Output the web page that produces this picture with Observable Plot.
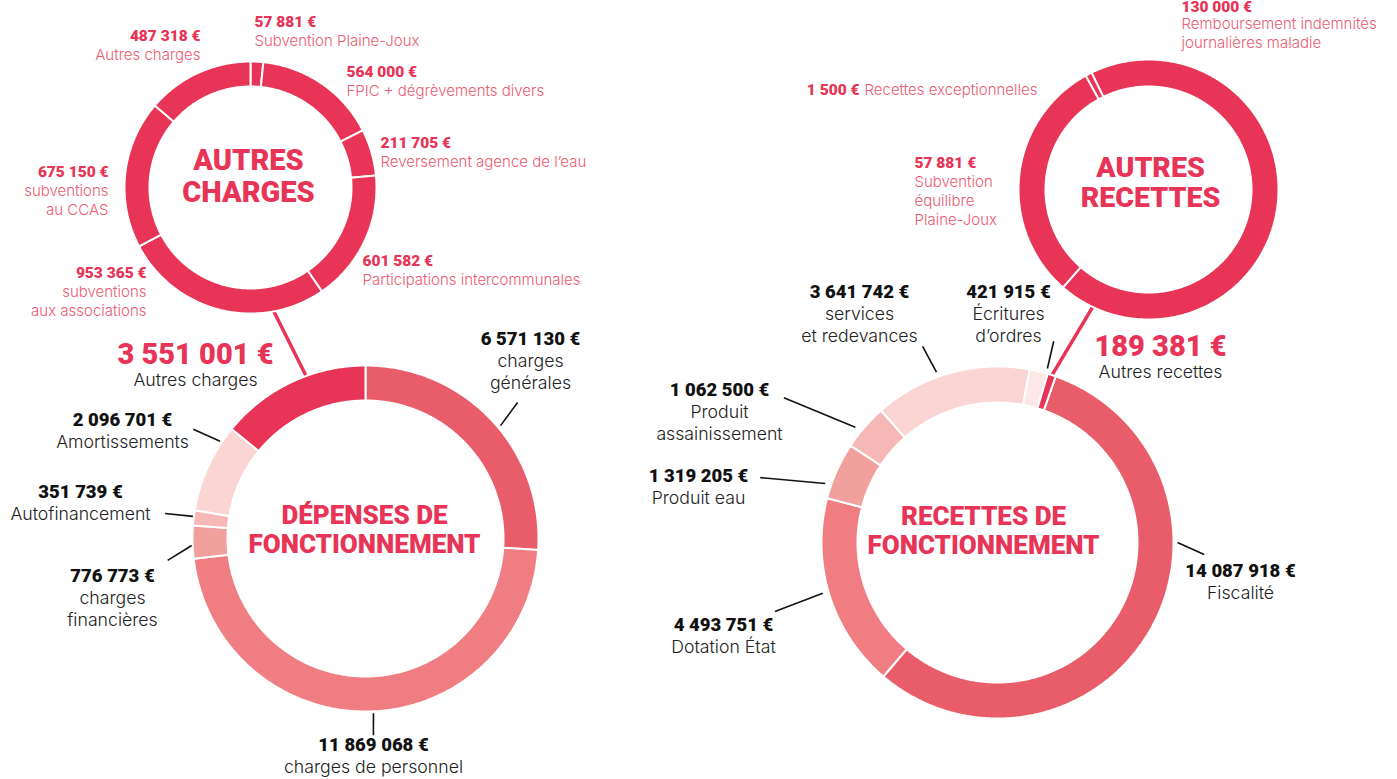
<!DOCTYPE html>
<html><head><meta charset="utf-8">
<script src="https://cdn.jsdelivr.net/npm/d3@7"></script>
<script src="https://cdn.jsdelivr.net/npm/@observablehq/plot@0.6"></script>
<style>html,body{margin:0;padding:0;background:#fff;overflow:hidden}</style>
</head><body><div id="chart"></div>
<script>
// ---------------- DATA ----------------
const depensesLabels = ["charges\ngénérales", "charges de personnel", "charges\nfinancières", "Autofinancement", "Amortissements", "Autres charges"];
const depensesValues = [6571130, 11869068, 776773, 351739, 2096701, 3551001];

const autresChargesLabels = ["Subvention Plaine-Joux", "FPIC + dégrèvements divers", "Reversement agence de l’eau", "Participations intercommunales", "subventions\naux associations", "subventions\nau CCAS", "Autres charges"];
const autresChargesValues = [57881, 564000, 211705, 601582, 953365, 675150, 487318];

const recettesLabels = ["Fiscalité", "Dotation État", "Produit eau", "Produit\nassainissement", "services\net redevances", "Écritures\nd’ordres", "Autres recettes"];
const recettesValues = [14087918, 4493751, 1319205, 1062500, 3641742, 421915, 189381];

const autresRecettesLabels = ["Remboursement indemnités\njournalières maladie", "Subvention\néquilibre\nPlaine-Joux", "Recettes exceptionnelles"];
const autresRecettesValues = [130000, 57881, 1500];

const titles = ["AUTRES\nCHARGES", "DÉPENSES DE\nFONCTIONNEMENT", "AUTRES\nRECETTES", "RECETTES DE\nFONCTIONNEMENT"];

// ---------------- LAYOUT / STYLE ----------------
const W = 1397, H = 779;
const RED = "#e83456";
const shades = {dark: RED, c1: "#e95c6a", c2: "#ef7d82", c3: "#f2a09e", c4: "#f6b8b6", c5: "#fad5d3", c6: "#fde8e7"};

// pos: [dx, dy, anchor, valueShift?] relative to the donut centre
const donuts = [
  {id: "AC", labels: autresChargesLabels, values: autresChargesValues, title: titles[0],
   cx: 250, cy: 187, R: 125, r: 102, start: 0, kind: "small",
   colors: Array(7).fill(RED), titleOff: [-2, -27, 32], titleSize: 29,
   pos: [[4,-165,"start"],[96,-115,"start"],[130,-44,"start"],[112,74,"start"],[-104,86,"end"],[-142,-15,"end"],[-50,-151,"end"]],
   leaders: []},
  {id: "DF", labels: depensesLabels, values: depensesValues, title: titles[1],
   cx: 365, cy: 538, R: 172, r: 139, start: 0, kind: "big", highlight: 5,
   colors: [shades.c1, shades.c2, shades.c3, shades.c4, shades.c5, shades.dark], titleOff: [-1, -23, 29.5], titleSize: 26,
   pos: [[165,-199,"middle"],[8,207,"middle"],[-253,38,"middle"],[-285,-46,"middle"],[-243,-118,"middle"],[-170,-184,"middle"]],
   leaders: [[50.1,176,48.2,204],[177.4,175,177.7,197],[267.7,174,263.7,199],[277.3,174,277.1,202],[303.8,175,302.4,204],null]},
  {id: "AR", labels: autresRecettesLabels, values: autresRecettesValues, title: titles[2],
   cx: 1148, cy: 189, R: 129, r: 104, start: -26, kind: "small",
   colors: Array(3).fill(RED), titleOff: [2, -22, 30], titleSize: 28.5,
   pos: [[33,-184,"start",2],[-234,-26,"start"],[-289,-99,"inline"]],
   leaders: []},
  {id: "RF", labels: recettesLabels, values: recettesValues, title: titles[3],
   cx: 997, cy: 542, R: 175, r: 141, start: 19.3, kind: "big", highlight: 6,
   colors: [shades.c1, shades.c2, shades.c3, shades.c4, shades.c5, shades.c6, shades.dark], titleOff: [-14, -26, 29.5], titleSize: 26,
   pos: [[243,29,"middle"],[-274,83,"middle"],[-299,-66,"middle"],[-278,-152,"middle"],[-138,-250,"middle"],[11,-250,"middle"],[163,-196,"middle"]],
   leaders: [[90,180,93.3,207],[253.8,182,252.8,233],[288.9,182,285.3,246],[309,183,304.1,258],[340.3,181,339.1,210],[16,181,15.6,209],null]}
];
// connectors: [from donut, angle] -> [to donut, angle]
const connectors = [[0, 169.6, 1, 340], [2, 205.3, 3, 17.9]];

const styles = {
  pinkVal:  {family: "Roboto", weight: 900, size: 15.5, fill: RED},
  pinkDesc: {family: "Inter", weight: 300, size: 15, fill: "#ec5b72"},
  blackVal: {family: "Roboto", weight: 900, size: 18.5, fill: "#111"},
  blackDesc:{family: "Inter", weight: 300, size: 17.7, fill: "#222"},
  bigVal:   {family: "Roboto", weight: 900, size: 29, fill: RED},
  title:    {family: "Roboto", weight: 900, size: 28, fill: RED}
};

// ---------------- BUILD ----------------
const deg = Math.PI / 180;
const fmt = v => d3.format(",")(v).replace(/,/g, "\u00a0") + "\u00a0€";
const polar = (d, a, rad) => [d.cx + rad * Math.sin(a * deg), d.cy - rad * Math.cos(a * deg)];

const ringRows = [], leaderRows = [], textRows = [];
donuts.forEach(d => {
  const s = d.start * deg;
  const arcs = d3.pie().sort(null).value(v => v).startAngle(s).endAngle(s + 2 * Math.PI)(d.values);
  arcs.forEach((a, i) => {
    const n = Math.max(2, Math.ceil((a.endAngle - a.startAngle) / (0.5 * deg)));
    const pts = [];
    const Ro = d.R + 1, Ri = d.r - 1;
    for (let k = 0; k <= n; k++) { const t = a.startAngle + (a.endAngle - a.startAngle) * k / n; pts.push([d.cx + Ro * Math.sin(t), d.cy - Ro * Math.cos(t)]); }
    for (let k = n; k >= 0; k--) { const t = a.startAngle + (a.endAngle - a.startAngle) * k / n; pts.push([d.cx + Ri * Math.sin(t), d.cy - Ri * Math.cos(t)]); }
    pts.push(pts[0]);
    pts.forEach(([x, y]) => ringRows.push({key: d.id + i, x, y, color: d.colors[i]}));
  });
  d.leaders.forEach(l => {
    if (!l) return;
    const [x1, y1] = polar(d, l[0], l[1]);
    const [x2, y2] = polar(d, l[2], l[3]);
    leaderRows.push({x1, y1, x2, y2});
  });
  d.values.forEach((v, i) => {
    const [dx, dy, anchor, vShift = 0] = d.pos[i];
    const x = d.cx + dx, y = d.cy + dy;
    const lines = d.labels[i].split("\n");
    if (d.kind === "small") {
      if (anchor === "inline") {
        textRows.push({x, y, text: fmt(v), st: "pinkVal", anchor: "end"});
        textRows.push({x: x + 5, y, text: lines[0], st: "pinkDesc", anchor: "start"});
      } else {
        textRows.push({x, y: y + vShift, text: fmt(v), st: "pinkVal", anchor});
        lines.forEach((t, j) => textRows.push({x, y: y + 19 + 19 * j, text: t, st: "pinkDesc", anchor}));
      }
    } else if (i === d.highlight) {
      textRows.push({x, y, text: fmt(v), st: "bigVal", anchor});
      lines.forEach((t, j) => textRows.push({x, y: y + 26 + 22 * j, text: t, st: "blackDesc", anchor}));
    } else {
      textRows.push({x, y, text: fmt(v), st: "blackVal", anchor});
      lines.forEach((t, j) => textRows.push({x, y: y + 22 + 22 * j, text: t, st: "blackDesc", anchor}));
    }
  });
  d.title.split("\n").forEach((t, j) => textRows.push({
    x: d.cx + d.titleOff[0], y: d.cy + d.titleOff[1] + d.titleOff[2] * j, text: t, st: "title", anchor: "middle", size: d.titleSize}));
});

const connRows = connectors.map(([a, aa, b, ba]) => {
  const [x1, y1] = polar(donuts[a], aa, donuts[a].R - 1);
  const [x2, y2] = polar(donuts[b], ba, donuts[b].R - 1);
  return {x1, y1, x2, y2};
});

// text marks grouped by style & anchor
const textMarks = [];
d3.groups(textRows, r => r.st + "|" + r.anchor).forEach(([key, rows]) => {
  const [st, anchor] = key.split("|");
  const S = styles[st];
  textMarks.push(Plot.text(rows, {
    x: "x", y: "y", text: "text", textAnchor: anchor,
    fontFamily: S.family, fontWeight: S.weight,
    fontSize: r => r.size ?? S.size, fill: () => S.fill
  }));
});

const chart = Plot.plot({
  width: W, height: H, margin: 0,
  x: {domain: [0, W], range: [0, W], axis: null},
  y: {domain: [0, H], range: [0, H], axis: null},
  color: {type: "identity"},
  style: {background: "#fff", overflow: "visible"},
  marks: [
    Plot.link(connRows, {x1: "x1", y1: "y1", x2: "x2", y2: "y2", stroke: RED, strokeWidth: 3.5}),
    Plot.line(ringRows, {x: "x", y: "y", z: "key", fill: "color", stroke: "#fff", strokeWidth: 2, strokeLinejoin: "miter", strokeLinecap: "butt"}),
    Plot.link(leaderRows, {x1: "x1", y1: "y1", x2: "x2", y2: "y2", stroke: "#111", strokeWidth: 1.6}),
    ...textMarks
  ]
});
document.getElementById("chart").appendChild(chart);
</script>
</body></html>
